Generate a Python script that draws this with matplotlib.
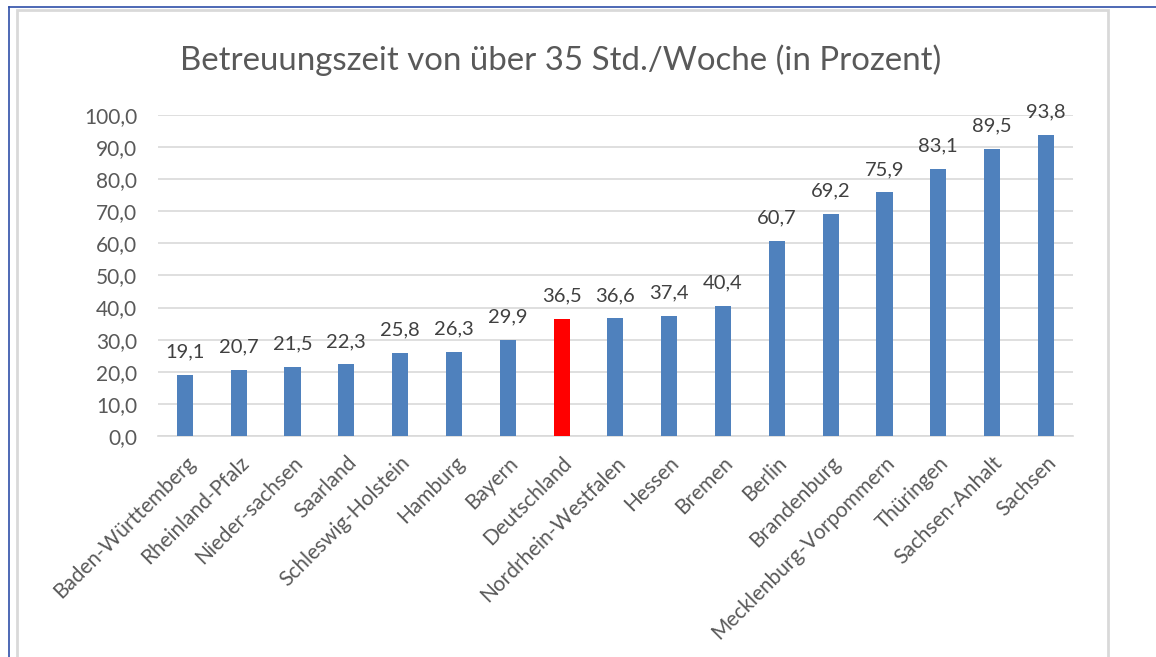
import matplotlib.pyplot as plt
from matplotlib.patches import Rectangle
from matplotlib.lines import Line2D

# Daten
laender = ['Baden-Württemberg', 'Rheinland-Pfalz', 'Nieder-sachsen', 'Saarland',
           'Schleswig-Holstein', 'Hamburg', 'Bayern', 'Deutschland',
           'Nordrhein-Westfalen', 'Hessen', 'Bremen', 'Berlin', 'Brandenburg',
           'Mecklenburg-Vorpommern', 'Thüringen', 'Sachsen-Anhalt', 'Sachsen']
werte = [19.1, 20.7, 21.5, 22.3, 25.8, 26.3, 29.9, 36.5, 36.6, 37.4, 40.4,
         60.7, 69.2, 75.9, 83.1, 89.5, 93.8]
y_ticks = [0, 10, 20, 30, 40, 50, 60, 70, 80, 90, 100]

plt.rcParams['font.family'] = ['Lato', 'DejaVu Sans']
grau = '#595959'

fig = plt.figure(figsize=(11.56, 6.57), dpi=100)
ax = fig.add_axes([0.1367, 0.3364, 0.7913, 0.4886])

farben = ['#ff0000' if l == 'Deutschland' else '#4f81bd' for l in laender]
x = range(len(laender))
bars = ax.bar(x, werte, width=0.3, color=farben, zorder=3)

# Werte über den Balken
for xi, v in zip(x, werte):
    ax.text(xi, v + 4.5, f'{v:.1f}'.replace('.', ','), ha='center', va='bottom',
            fontsize=14.5, color='#404040')

ax.set_ylim(0, 100)
ax.set_xlim(-0.5, len(laender) - 0.5)
ax.set_yticks(y_ticks)
ax.set_yticklabels([f'{t:.1f}'.replace('.', ',') for t in y_ticks], fontsize=15, color=grau)
ax.set_xticks(list(x))
ax.set_xticklabels(laender, rotation=45, ha='right', rotation_mode='anchor',
                   fontsize=15, color=grau)
ax.tick_params(length=0)
ax.tick_params(axis='y', pad=15)
ax.tick_params(axis='x', pad=12)
ax.grid(axis='y', color='#d9d9d9', linewidth=1.2, zorder=0)
for s in ['top', 'right', 'left']:
    ax.spines[s].set_visible(False)
ax.spines['bottom'].set_color('#d9d9d9')
ax.spines['bottom'].set_linewidth(1.2)

fig.text(0.485, 0.908, 'Betreuungszeit von über 35 Std./Woche (in Prozent)',
         ha='center', va='center', fontsize=23.8, color=grau)

# Rahmen
fig.add_artist(Rectangle((17 / 1156, -0.05), (1108 - 17) / 1156, 1.05 - 10 / 657,
                         transform=fig.transFigure, fill=False,
                         edgecolor='#d9d9d9', linewidth=2))
fig.add_artist(Line2D([9 / 1156, 9 / 1156], [0, 1 - 7 / 657], transform=fig.transFigure,
                      color='#2f4fa8', linewidth=1.2))
fig.add_artist(Line2D([9 / 1156, 1], [1 - 7 / 657, 1 - 7 / 657], transform=fig.transFigure,
                      color='#2f4fa8', linewidth=1.2))

plt.savefig('out.png')
